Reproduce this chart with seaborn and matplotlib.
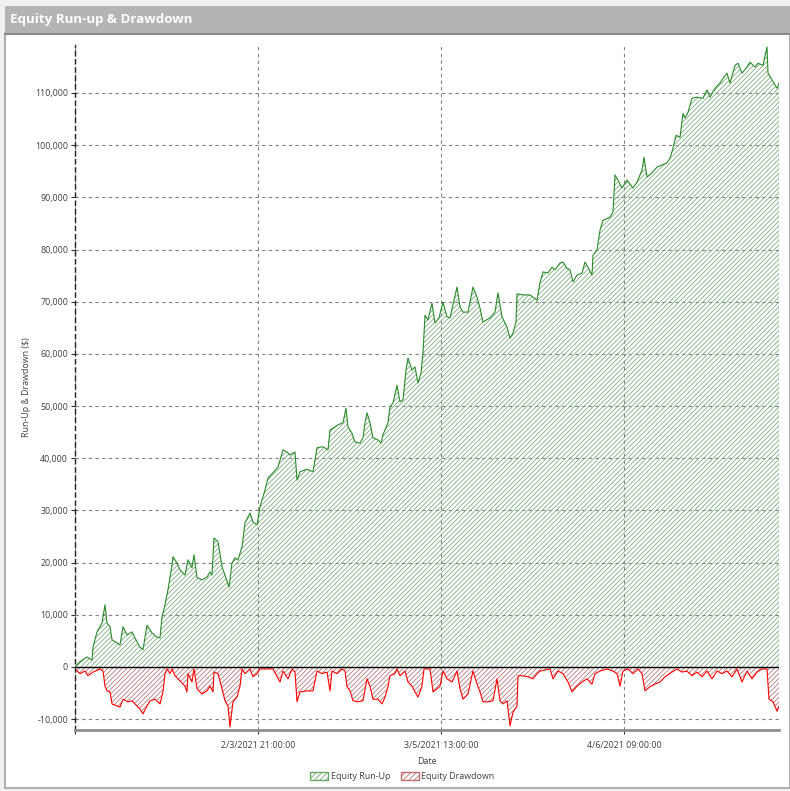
import matplotlib
matplotlib.use("Agg")
import matplotlib.pyplot as plt
import seaborn as sns
import pandas as pd
from matplotlib.patches import Rectangle, Patch

# Equity run-up (bar number, $)
run_bar = [0, 50, 120, 170, 180, 220, 270, 300, 320, 350, 370, 420, 450, 480, 520, 570, 620, 650, 680, 720,
           770, 820, 850, 870, 900, 930, 970, 980, 1020, 1050, 1100, 1130, 1170, 1190, 1220, 1270, 1320, 1350,
           1370, 1390, 1430, 1470, 1500, 1540, 1570, 1600, 1630, 1670, 1700, 1750, 1780, 1820, 1850, 1900, 1930,
           1980, 2030, 2080, 2120, 2150, 2200, 2220, 2250, 2320, 2380, 2420, 2480, 2530, 2550, 2600, 2630, 2680,
           2710, 2730, 2770, 2800, 2850, 2880, 2900, 2920, 2950, 2980, 3030, 3060, 3080, 3130, 3150, 3180, 3220,
           3250, 3280, 3310, 3330, 3370, 3400, 3430, 3460, 3480, 3500, 3530, 3570, 3600, 3640, 3680, 3720, 3750,
           3820, 3850, 3880, 3930, 3980, 4020, 4050, 4080, 4150, 4200, 4230, 4270, 4320, 4350, 4380, 4410, 4420,
           4480, 4550, 4620, 4650, 4680, 4730, 4770, 4800, 4850, 4880, 4920, 4950, 4980, 5020, 5070, 5100, 5130,
           5170, 5180, 5220, 5250, 5280, 5350, 5380, 5400, 5430, 5470, 5520, 5580, 5620, 5670, 5690, 5720, 5770,
           5820, 5870, 5920, 5950, 5980, 6010, 6050, 6080, 6100, 6130, 6170, 6220, 6280, 6320, 6350, 6400, 6450,
           6480, 6520, 6550, 6600, 6630, 6670, 6720, 6750, 6800, 6830, 6880, 6920, 6930, 6970, 7020, 7040]
run_value = [0, 1000, 1900, 1300, 3800, 6700, 8400, 11900, 8400, 7700, 5200, 4600, 4200, 7700, 6100, 6700, 4800,
             3800, 3300, 8000, 6500, 5700, 5600, 9600, 11900, 14800, 19500, 21100, 19900, 18600, 17600, 20500,
             19000, 21500, 17100, 16700, 17200, 18200, 17600, 24700, 24000, 19200, 17600, 15300, 19900, 20900,
             20500, 23000, 27600, 29500, 27800, 27200, 30700, 33900, 36200, 37200, 38300, 41600, 41200, 40600,
             41200, 35800, 37400, 37900, 37400, 42000, 42200, 41600, 45400, 46000, 46400, 46800, 49600, 46000,
             44800, 43100, 42900, 43900, 46800, 48700, 46800, 43900, 43500, 42900, 44500, 46800, 49800, 50600,
             54000, 50800, 51200, 56900, 59200, 56900, 57500, 54400, 56300, 60200, 67400, 66500, 69700, 65900,
             66900, 69900, 67100, 66900, 72800, 69000, 68000, 68000, 72800, 70900, 68800, 66100, 66900, 68000,
             71700, 67100, 65100, 63000, 64000, 66100, 71500, 71300, 71300, 70300, 73600, 75700, 75500, 76600,
             76100, 77400, 77600, 76400, 76100, 73800, 75100, 75500, 77600, 76600, 75100, 78900, 79900, 83700,
             85600, 86200, 87200, 94300, 93300, 91800, 93300, 91800, 92900, 95200, 97700, 93900, 94700, 95800,
             96200, 96600, 97500, 99400, 101900, 101500, 106100, 105200, 106300, 109000, 109200, 109000, 110600,
             109200, 110900, 111900, 112800, 113800, 111900, 115300, 115700, 113800, 115000, 115900, 115000,
             115700, 115300, 118800, 113800, 112500, 110900, 111900]

# Equity drawdown (bar number, $)
dd_bar = [0, 50, 100, 130, 180, 250, 280, 300, 320, 350, 370, 420, 450, 480, 530, 570, 620, 650, 680, 720, 750,
          800, 850, 880, 900, 920, 950, 970, 1000, 1050, 1100, 1120, 1130, 1170, 1190, 1220, 1270, 1320, 1350,
          1380, 1390, 1430, 1470, 1500, 1530, 1550, 1580, 1620, 1650, 1670, 1700, 1750, 1780, 1820, 1850, 1920,
          1980, 2050, 2080, 2130, 2170, 2200, 2220, 2250, 2320, 2380, 2420, 2470, 2520, 2550, 2570, 2620, 2670,
          2700, 2720, 2750, 2780, 2830, 2880, 2920, 2950, 2980, 3030, 3070, 3100, 3130, 3150, 3200, 3220, 3250,
          3300, 3330, 3370, 3400, 3430, 3470, 3490, 3550, 3580, 3620, 3650, 3680, 3720, 3770, 3820, 3850, 3880,
          3930, 3980, 4020, 4050, 4080, 4130, 4180, 4220, 4250, 4280, 4320, 4350, 4380, 4420, 4430, 4470, 4530,
          4580, 4620, 4650, 4750, 4780, 4830, 4880, 4930, 4970, 5020, 5070, 5120, 5170, 5200, 5250, 5320, 5380,
          5420, 5450, 5480, 5530, 5580, 5630, 5670, 5700, 5750, 5800, 5850, 5900, 5970, 6020, 6070, 6120, 6170,
          6220, 6270, 6320, 6370, 6420, 6470, 6520, 6570, 6620, 6670, 6720, 6770, 6820, 6870, 6920, 6940, 6980,
          7020, 7040]
dd_value = [-400, -1300, -800, -1700, -1000, -400, -800, -3700, -4600, -4800, -7100, -7500, -7700, -6200, -6700,
            -6500, -7500, -8100, -9000, -7500, -6500, -6200, -7100, -4800, -1300, -400, -1300, -400, -1700, -2700,
            -3700, -4800, -1300, -2900, -400, -4200, -5200, -4600, -3700, -4800, -1000, -1300, -4200, -6500,
            -7500, -11500, -6700, -5800, -3700, -400, -1300, -400, -1900, -1300, -400, -400, -400, -2900, -800,
            -2300, -400, -1000, -6700, -4800, -4600, -4600, -800, -1300, -1000, -4600, -800, -1300, -400, -800,
            -3800, -4600, -6500, -6700, -6500, -2300, -3700, -6200, -6200, -7100, -5800, -3800, -1700, -1300,
            -400, -1700, -800, -2900, -3700, -4800, -5800, -3700, -400, -400, -4800, -4200, -3700, -800, -2300,
            -2900, -800, -4200, -6200, -5200, -800, -3300, -4800, -6700, -6700, -6500, -2300, -6500, -7100,
            -6500, -11300, -8700, -7500, -1700, -1700, -1900, -2300, -1300, -800, -400, -2300, -800, -1300,
            -2900, -4800, -3700, -2900, -2300, -3300, -1300, -800, -400, -800, -1300, -3700, -800, -400, -1300,
            -400, -1300, -4600, -3800, -3300, -2900, -1900, -1000, -400, -1000, -800, -1700, -1000, -1900, -800,
            -2300, -800, -1300, -800, -1900, -400, -2900, -800, -2300, -1000, -400, -400, -6200, -6700, -8500,
            -7500]

tick_bars = [1830, 3660, 5490]
tick_labels = ["2/3/2021 21:00:00", "3/5/2021 13:00:00", "4/6/2021 09:00:00"]
y_ticks = list(range(-10000, 110001, 10000))

sns.set_style("white")
plt.rcParams["font.family"] = ["Open Sans", "DejaVu Sans"]
plt.rcParams["hatch.linewidth"] = 0.6

run_df = pd.DataFrame({"bar": run_bar, "value": run_value})
dd_df = pd.DataFrame({"bar": dd_bar, "value": dd_value})

fig = plt.figure(figsize=(7.9, 7.91), dpi=100)
fig.patch.set_facecolor("white")

# window frame + title bar
fig.patches.append(Rectangle((0, 0), 1, 1, transform=fig.transFigure, facecolor="#f0f0f0",
                             edgecolor="none", zorder=-3))
fig.patches.append(Rectangle((5 / 790, 3 / 791), 785 / 790, 755 / 791, transform=fig.transFigure,
                             facecolor="white", edgecolor="#a0a0a0", linewidth=1.2, zorder=-2))
fig.patches.append(Rectangle((5 / 790, 1 - 34 / 791), 785 / 790, 28 / 791, transform=fig.transFigure,
                             facecolor="#b4b4b4", edgecolor="none", zorder=-1))
fig.lines.append(plt.Line2D([5 / 790, 1], [1 - 34 / 791] * 2, transform=fig.transFigure,
                            color="#8a8a8a", linewidth=1.5))
fig.text(10 / 790, 1 - 20 / 791, "Equity Run-up & Drawdown", color="white", fontsize=9.6,
         fontweight="bold", va="center", ha="left")

ax = fig.add_axes([75 / 790, 1 - 730 / 791, 704 / 790, 685 / 791])
ax.set_facecolor("none")

green = "#2a8a2a"
red = "#ff0000"

ax.fill_between(run_df["bar"], 0, run_df["value"], facecolor="none", edgecolor="#80ae80",
                hatch="///////", linewidth=0)
ax.fill_between(dd_df["bar"], 0, dd_df["value"], facecolor="none", edgecolor="#b87878",
                hatch="///////", linewidth=0)
sns.lineplot(data=run_df, x="bar", y="value", ax=ax, color=green, linewidth=0.8, estimator=None)
sns.lineplot(data=dd_df, x="bar", y="value", ax=ax, color=red, linewidth=0.8, estimator=None)
ax.plot([run_bar[-1], run_bar[-1]], [0, run_value[-1]], color="#8cb88c", linewidth=1)
ax.axhline(0, color="black", linewidth=1)

ax.set_xlim(0, 7040)
ax.set_ylim(-12100, 119200)
ax.set_yticks(y_ticks)
ax.set_yticklabels([f"{v:,}" for v in y_ticks])
ax.set_xticks([0] + tick_bars)
ax.set_xticklabels([""] + tick_labels)
ax.grid(True, color="#808080", linestyle=(0, (3, 3)), linewidth=0.8)
ax.tick_params(axis="both", labelsize=6.4, labelcolor="#404040", color="#303030", length=3,
               width=0.8, direction="out", pad=2, left=True, bottom=True)
ax.tick_params(axis="x", pad=5)

for side in ["top", "right"]:
    ax.spines[side].set_visible(False)
ax.spines["left"].set_color("#202020")
ax.spines["left"].set_linestyle((0, (3, 3)))
ax.spines["left"].set_linewidth(1.0)
ax.spines["bottom"].set_color("#909090")
ax.spines["bottom"].set_linewidth(2)

ax.set_xlabel("Date", fontsize=6.4, color="#404040", labelpad=5)
ax.set_ylabel("Run-Up & Drawdown ($)", fontsize=6.4, color="#404040", labelpad=3)

handles = [Patch(facecolor="none", edgecolor="#6aa86a", hatch="//////", label="Equity Run-Up"),
           Patch(facecolor="none", edgecolor="#c07070", hatch="//////", label="Equity Drawdown")]
ax.legend(handles=handles, loc="upper center", bbox_to_anchor=(0.465, -0.049), ncol=2, frameon=False,
          fontsize=6.4, handlelength=2.0, handleheight=1.0, columnspacing=1.2, handletextpad=0.3,
          labelcolor="#404040")

fig.savefig("out.png", dpi=100)
